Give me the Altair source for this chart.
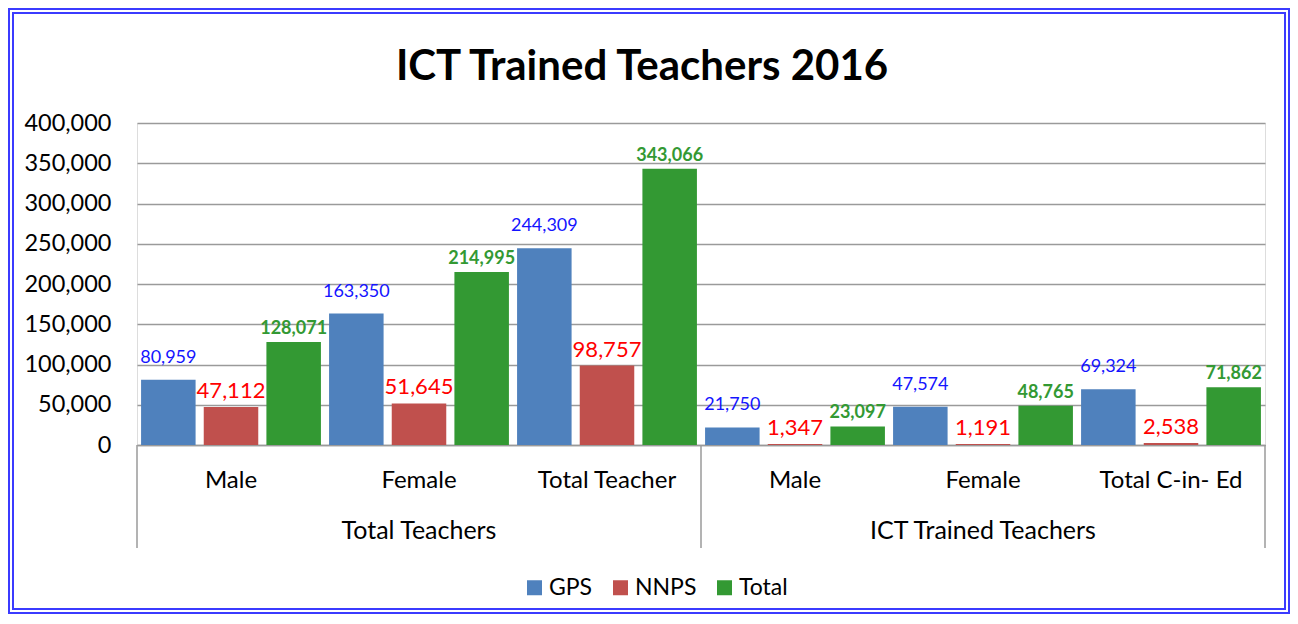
import altair as alt
import pandas as pd

chart_title = "ICT Trained Teachers 2016"
groups = ["Total Teachers"] * 3 + ["ICT Trained Teachers"] * 3
subcats = ["Male", "Female", "Total Teacher", "Male", "Female", "Total C-in- Ed"]
series = ["GPS", "NNPS", "Total"]
gps = [80959, 163350, 244309, 21750, 47574, 69324]
nnps = [47112, 51645, 98757, 1347, 1191, 2538]
total = [128071, 214995, 343066, 23097, 48765, 71862]
y_ticks = [0, 50000, 100000, 150000, 200000, 250000, 300000, 350000, 400000]
group_names = ["Total Teachers", "ICT Trained Teachers"]

bar_colors = ["#4F81BD", "#C0504D", "#339933"]
label_colors = ["#1414FF", "#FF0000", "#339933"]

keys = [f"{g}|{s}" for g, s in zip(groups, subcats)]
rows = []
for i, k in enumerate(keys):
    for s, vals in zip(series, [gps, nnps, total]):
        rows.append({"key": k, "series": s, "value": vals[i]})
df = pd.DataFrame(rows)

FONT = "Lato"
W, H = 1128, 322

x_scale = alt.Scale(domain=keys, paddingInner=0, paddingOuter=0)
x_enc = alt.X(
    "key:N",
    sort=keys,
    scale=x_scale,
    axis=alt.Axis(
        title=None,
        labelExpr="split(datum.label, '|')[1]",
        ticks=False,
        labelAngle=0,
        labelFont=FONT,
        labelFontSize=24,
        labelColor="#000000",
        labelPadding=23,
        domainColor="#9A9A9A",
        domainWidth=1.5,
    ),
)
xoff_enc = alt.XOffset(
    "series:N",
    sort=series,
    scale=alt.Scale(domain=series, paddingInner=0.13, paddingOuter=0.065),
)
y_enc = alt.Y(
    "value:Q",
    scale=alt.Scale(domain=[0, 400000], nice=False),
    axis=alt.Axis(
        title=None,
        values=y_ticks,
        format=",.0f",
        ticks=False,
        domain=False,
        gridColor="#9A9A9A",
        gridWidth=1.5,
        labelFont=FONT,
        labelFontSize=23.5,
        labelColor="#000000",
        labelPadding=26,
    ),
)

base = alt.Chart(df)

bars = base.mark_bar().encode(
    x=x_enc,
    xOffset=xoff_enc,
    y=y_enc,
    color=alt.Color(
        "series:N",
        sort=series,
        scale=alt.Scale(domain=series, range=bar_colors),
        legend=alt.Legend(
            title=None,
            orient="none",
            direction="horizontal",
            legendX=386,
            legendY=453,
            symbolType="square",
            symbolSize=225,
            symbolStrokeWidth=0,
            labelFont=FONT,
            labelFontSize=23,
            labelColor="#000000",
            labelOffset=3,
            columnPadding=16,
        ),
    ),
)

label_sizes = [18, 22, 18]
label_weights = ["normal", "normal", "bold"]
label_gaps = [17, 9, 8]
text_layers = []
for s, c, fs, fw, gap in zip(series, label_colors, label_sizes, label_weights, label_gaps):
    text_layers.append(
        base.transform_filter(alt.datum.series == s)
        .mark_text(font=FONT, fontSize=fs, fontWeight=fw, color=c, baseline="alphabetic", dy=-gap)
        .encode(x=x_enc, xOffset=xoff_enc, y=y_enc, text=alt.Text("value:Q", format=","))
    )

grp_df = pd.DataFrame({"key": [keys[1], keys[4]], "label": group_names})
group_labels = alt.Chart(grp_df).mark_text(
    font=FONT, fontSize=25, color="#000000", baseline="alphabetic"
).encode(x=x_enc, y=alt.value(416), text="label:N")

sep_df = pd.DataFrame({"key": [keys[0], keys[3]]})
sep_left = alt.Chart(sep_df).mark_rule(color="#9A9A9A", strokeWidth=1.5).encode(
    x=alt.X("key:N", bandPosition=0, sort=keys, scale=x_scale),
    y=alt.value(H),
    y2=alt.value(425),
)
sep_right = alt.Chart(pd.DataFrame({"key": [keys[5]]})).mark_rule(color="#9A9A9A", strokeWidth=1.5).encode(
    x=alt.X("key:N", bandPosition=1, sort=keys, scale=x_scale),
    y=alt.value(H),
    y2=alt.value(425),
)

one = alt.Data(values=[{"t": chart_title}])
title_mark = alt.Chart(one).mark_text(
    font=FONT, fontSize=42, fontWeight="bold", color="#000000", baseline="alphabetic", align="center"
).encode(x=alt.value(505), y=alt.value(-43), text="t:N")

border_outer = alt.Chart(one).mark_rect(filled=False, stroke="#3B3BFF", strokeWidth=2).encode(
    x=alt.value(-128), x2=alt.value(1152), y=alt.value(-114), y2=alt.value(490)
)
border_inner = alt.Chart(one).mark_rect(filled=False, stroke="#3B3BFF", strokeWidth=2).encode(
    x=alt.value(-124), x2=alt.value(1148), y=alt.value(-110), y2=alt.value(486)
)

chart = (
    alt.layer(bars, *text_layers, group_labels, sep_left, sep_right, title_mark, border_outer, border_inner)
    .properties(
        width=W,
        height=H,
        padding={"left": 129, "top": 115, "right": 25, "bottom": 169},
        autosize=alt.AutoSizeParams(type="none"),
    )
    .configure_view(strokeWidth=0)
    .configure(background="white")
)

chart.save("out.html", embed_options={"renderer": "svg", "actions": False})
